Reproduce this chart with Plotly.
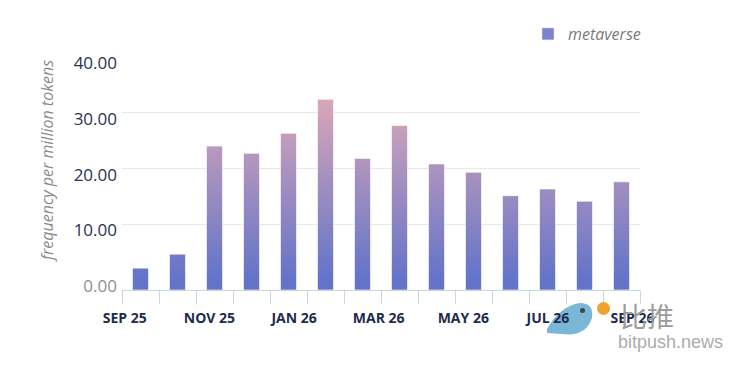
import plotly.graph_objects as go

# ---- data ----
categories = ["P01", "P02", "P03", "P04", "P05", "P06", "P07",
              "P08", "P09", "P10", "P11", "P12", "P13", "P14"]
values = [2.1, 4.6, 24.0, 22.7, 26.3, 32.4, 21.8,
          27.7, 20.8, 19.3, 15.1, 16.3, 14.1, 17.6]
x_tick_labels = ["SEP 25", "NOV 25", "JAN 26", "MAR 26", "MAY 26", "JUL 26", "SEP 26"]
x_label_positions = [-0.424, 1.863, 4.150, 6.437, 8.724, 11.011, 13.298]
y_ticks = [0, 10, 20, 30, 40]
series_name = "metaverse"

# ---- geometry / style ----
OFF = 8  # page body margin
W, H = 744 - OFF, 369 - OFF
PLOT_L, PLOT_R, PLOT_T, PLOT_B = 122, 640, 57, 290  # in reference pixels
ML, MT = PLOT_L - OFF, PLOT_T - OFF
MR, MB = W - (PLOT_R - OFF), H - (PLOT_B - OFF)
PW, PH = PLOT_R - PLOT_L, PLOT_B - PLOT_T
Y_MIN, Y_MAX = -1.83, 40
HALF_W = 0.216
LABEL_SHIFT = 1.15
NAVY = "#28314f"
AXIS_C = "#ccd6df"
GRID_C = "#e6e9ec"


def px_x(px):
    return (px - PLOT_L) / PW


def px_y(py):
    return (PLOT_B - py) / PH


fig = go.Figure()

for i, v in enumerate(values):
    x0, x1 = i - HALF_W, i + HALF_W
    fig.add_trace(go.Scatter(
        x=[x0, x0, x1, x1, x0],
        y=[Y_MIN, v, v, Y_MIN, Y_MIN],
        mode="lines", fill="toself",
        line=dict(color="rgba(255,255,255,0.6)", width=1),
        fillgradient=dict(type="vertical",
                          colorscale=[[0, "#6373c9"], [1, "#dba8b7"]],
                          start=0, stop=33),
        showlegend=False, hoverinfo="skip", name=categories[i],
    ))

# legend entry
fig.add_trace(go.Bar(x=[None], y=[None], name=series_name,
                     marker=dict(color="#7884cb"), showlegend=True))

# helper trace for overlay axes
fig.add_trace(go.Scatter(x=[None], y=[None], xaxis="x2", yaxis="y2",
                         showlegend=False, hoverinfo="skip"))

y_text = []
for t in y_ticks:
    s = f"{t:.2f}"
    if t == 0:
        s = f'<span style="color:#8f8f8f">{s}</span>'
    y_text.append(s)

fig.update_layout(
    width=W, height=H,
    margin=dict(l=ML, r=MR, t=MT, b=MB, pad=0, autoexpand=False),
    paper_bgcolor="white", plot_bgcolor="white",
    font=dict(family="Open Sans", color=NAVY),
    xaxis=dict(range=[-0.5, 13.5], tickvals=[k - 0.5 for k in range(15)],
               ticks="outside", ticklen=13, tickcolor=AXIS_C, tickwidth=1,
               showticklabels=False, showline=True, linecolor=AXIS_C, linewidth=1,
               showgrid=False, zeroline=False, fixedrange=True, automargin=False),
    xaxis2=dict(range=[-0.5, 13.5], overlaying="x", anchor="y2", side="bottom",
                tickvals=x_label_positions, ticktext=x_tick_labels,
                ticks="", showline=False, showgrid=False, zeroline=False,
                ticklabelstandoff=18, automargin=False,
                tickfont=dict(family="Open Sans", size=14, color="#1e2b4d", weight="bold")),
    yaxis=dict(range=[Y_MIN, Y_MAX], tickvals=y_ticks[1:], showticklabels=False,
               showgrid=True, gridcolor=GRID_C, gridwidth=1, zeroline=False,
               showline=False, ticks="", fixedrange=True, automargin=False),
    yaxis2=dict(range=[Y_MIN, Y_MAX], overlaying="y", anchor="x2", side="left",
                tickvals=[t - LABEL_SHIFT for t in y_ticks], ticktext=y_text,
                showgrid=False, zeroline=False, showline=False, ticks="",
                ticklabelstandoff=4, automargin=False,
                tickfont=dict(family="Open Sans", size=17, color=NAVY)),
    legend=dict(x=px_x(528), y=px_y(17), xanchor="left", yanchor="top",
                bgcolor="rgba(0,0,0,0)",
                font=dict(family="Open Sans", size=16, color="#7a7a7a", style="italic")),
    showlegend=True,
)

fig.add_annotation(text="frequency per million tokens", xref="paper", yref="paper",
                   x=px_x(47), y=px_y(161), textangle=-90, showarrow=False,
                   xanchor="center", yanchor="middle",
                   font=dict(family="Open Sans", size=16, color="#8a8a8a", style="italic"))

# watermark
fig.add_shape(type="path", xref="paper", yref="paper", layer="below",
              path=(f"M {px_x(547)},{px_y(329)} Q {px_x(560)},{px_y(306)} {px_x(580)},{px_y(303)} "
                    f"Q {px_x(594)},{px_y(303)} {px_x(592)},{px_y(318)} "
                    f"Q {px_x(586)},{px_y(337)} {px_x(562)},{px_y(334)} "
                    f"L {px_x(547)},{px_y(333)} Z"),
              fillcolor="#7ab7d7", line=dict(width=0))
fig.add_shape(type="circle", xref="paper", yref="paper", layer="above",
              x0=px_x(580), x1=px_x(585), y0=px_y(308), y1=px_y(313),
              fillcolor="#444444", line=dict(width=0))
fig.add_shape(type="circle", xref="paper", yref="paper", layer="above",
              x0=px_x(597), x1=px_x(610), y0=px_y(302), y1=px_y(315),
              fillcolor="#f0a02c", line=dict(width=0))
fig.add_annotation(text="比推", xref="paper", yref="paper", x=px_x(647), y=px_y(315),
                   showarrow=False, xanchor="center", yanchor="middle",
                   font=dict(family="Noto Sans CJK SC", size=27, color="#9c9c9c"))
fig.add_annotation(text="bitpush.news", xref="paper", yref="paper", x=px_x(670), y=px_y(342),
                   showarrow=False, xanchor="center", yanchor="middle",
                   font=dict(family="Liberation Sans", size=18, color="#ababab"))

fig.write_html("out.html")
